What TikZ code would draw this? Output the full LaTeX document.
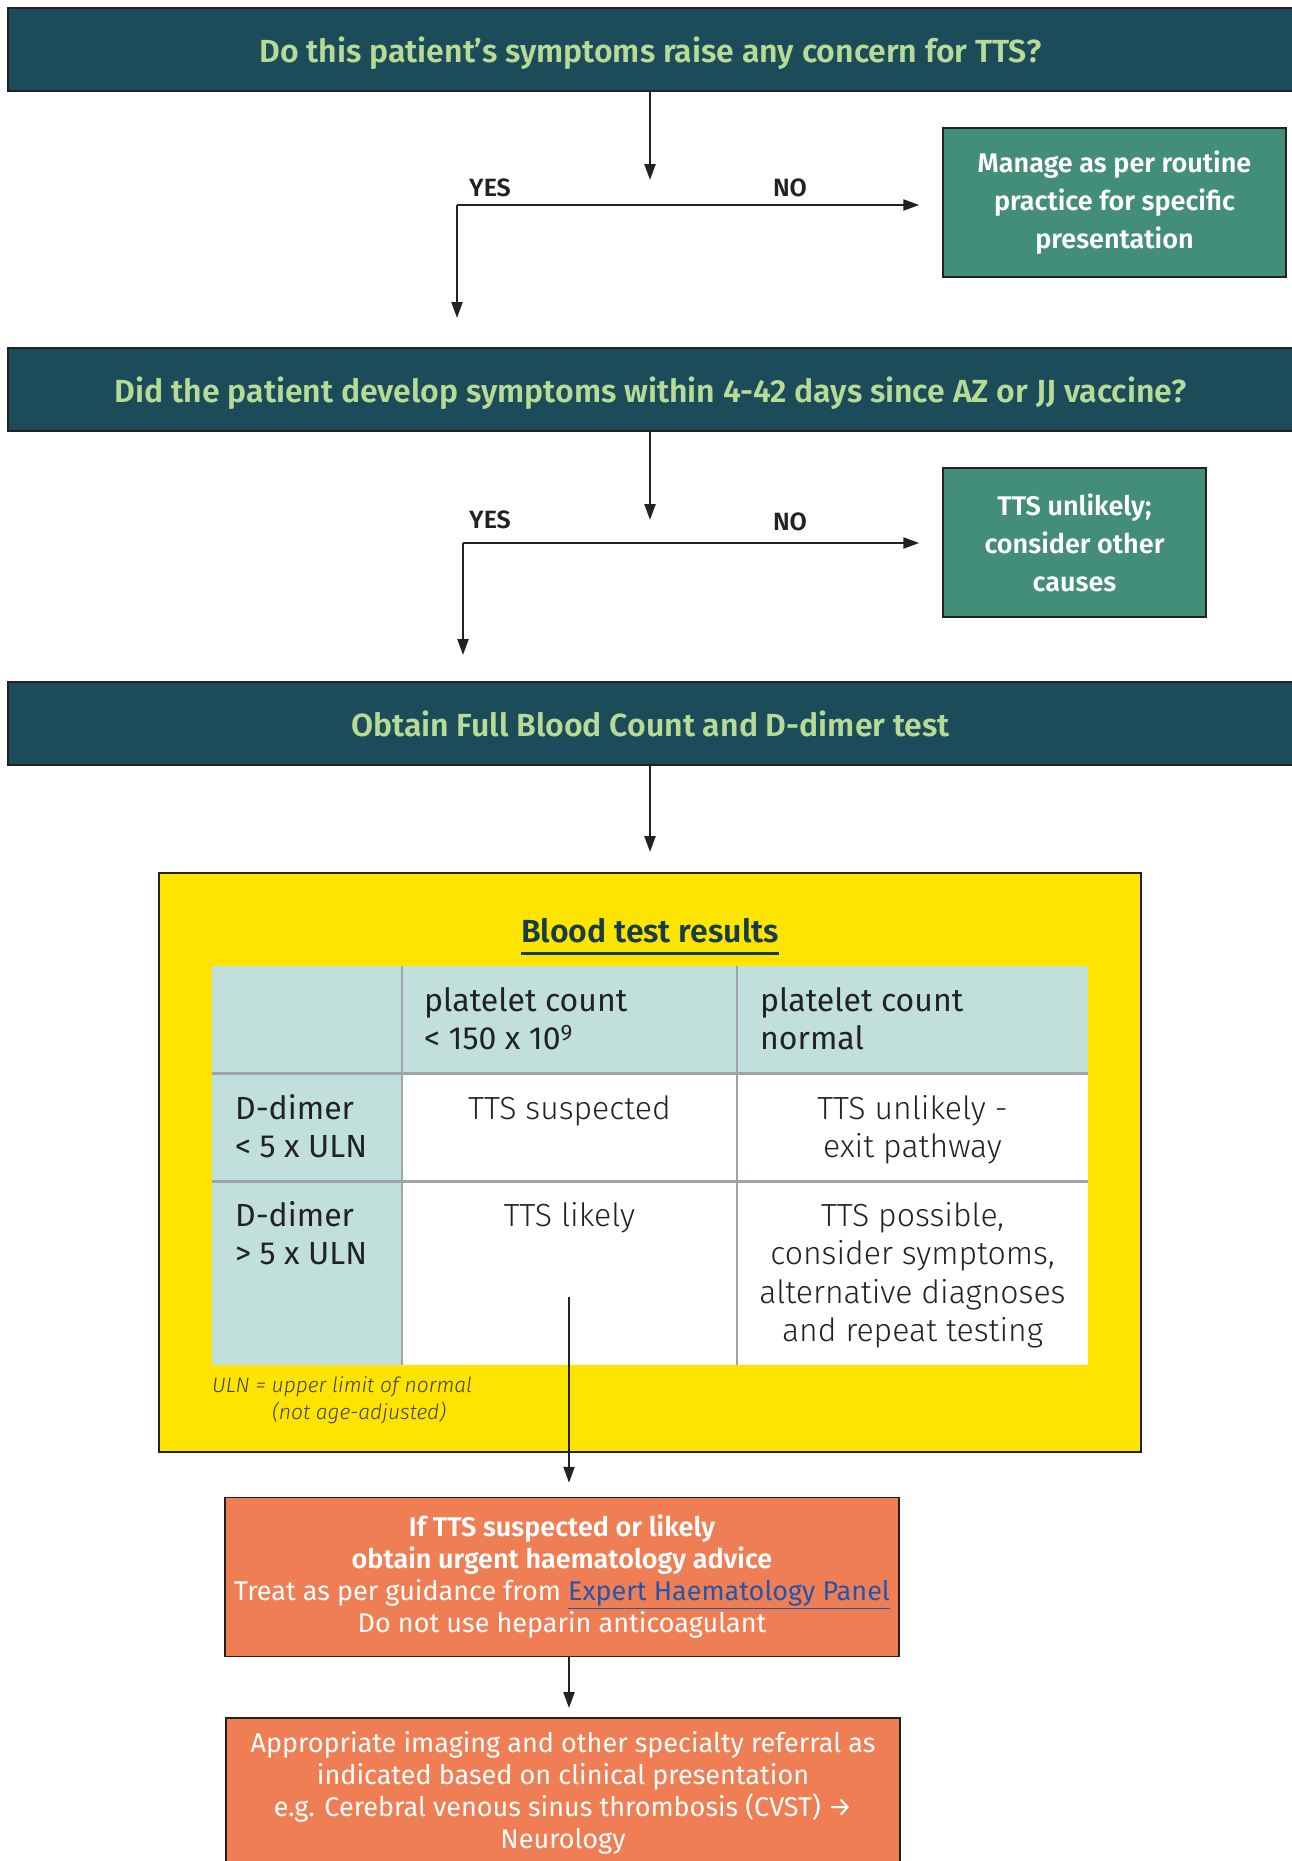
\documentclass[tikz,border=0pt]{standalone}
\usepackage{fontspec}
\setmainfont{Fira Sans}
\newfontfamily\semib{Fira Sans SemiBold}
\newfontfamily\lightf{Fira Sans Light}
\usetikzlibrary{arrows.meta, positioning, calc}
\definecolor{deepteal}{RGB}{28, 76, 89}
\definecolor{leafgreen}{RGB}{183, 218, 150}
\definecolor{mossgreen}{RGB}{67, 142, 120}
\definecolor{sunyellow}{RGB}{255, 228, 0}
\definecolor{headfill}{RGB}{193, 224, 220}
\definecolor{coral}{RGB}{240, 126, 85}
\definecolor{linkblue}{RGB}{35, 86, 170}
\definecolor{gridgray}{RGB}{160, 163, 170}
\definecolor{inkdark}{RGB}{34, 34, 34}

\begin{document}
\begin{tikzpicture}[x=1pt, y=-1pt,
  banner/.style={draw=inkdark, line width=2pt, fill=deepteal, text=leafgreen, minimum width=1285pt, minimum height=83pt, inner sep=0pt, text depth=0pt, font=\semib\fontsize{32}{38}\selectfont},
  outbox/.style={draw=inkdark, line width=1.5pt, fill=mossgreen, text=white, align=center, inner sep=0pt, minimum height=149pt, font=\semib\fontsize{27}{38}\selectfont},
  actbox/.style={draw=inkdark, line width=1.5pt, fill=coral, text=white, align=center, inner sep=0pt, minimum width=674pt, font=\fontsize{27}{32}\selectfont},
  flow/.style={draw=inkdark, line width=2.3pt, -{Triangle[length=16pt, width=11pt]}},
  branch/.style={font=\semib\fontsize{25}{28}\selectfont, text=inkdark},
  cell/.style={font=\lightf\fontsize{32}{38.5}\selectfont, text=inkdark, align=center, inner sep=0pt, anchor=base},
  headcell/.style={font=\fontsize{32}{38.5}\selectfont, text=inkdark, align=left, inner sep=0pt, anchor=base west},
]
  \useasboundingbox (0,0) rectangle (1291,1861);

  % First question
  \node[banner] (q1) at (650.5,49.5) {Do this patient’s symptoms raise any concern for TTS?};
  \node[outbox, minimum width=343pt] (routine) at (1114.5,202.5) {Manage as per routine\\practice for specific\\presentation};
  \coordinate (stop1) at (650,180);
  \coordinate (fork1) at (457,205);
  \coordinate (yes1) at (457,318);
  \draw[flow] (q1.south -| stop1) -- (stop1);
  \draw[flow, shorten >=23pt] (fork1) -- (fork1 -| routine.west);
  \draw[flow] (fork1) -- (yes1);
  \node[branch] (yesa) at (490,188) {YES};
  \node[branch] (noa) at (790,188) {NO};

  % Second question
  \node[banner] (q2) at (650.5,389.5) {Did the patient develop symptoms within 4-42 days since AZ or JJ vaccine?};
  \node[outbox, minimum width=263pt] (unlikely) at (1074.5,542.5) {TTS unlikely;\\consider other\\causes};
  \coordinate (stop2) at (650,520);
  \coordinate (fork2) at (463,543);
  \coordinate (yes2) at (463,655);
  \draw[flow] (q2.south -| stop2) -- (stop2);
  \draw[flow, shorten >=23pt] (fork2) -- (fork2 -| unlikely.west);
  \draw[flow] (fork2) -- (yes2);
  \node[branch] (yesb) at (490,520) {YES};
  \node[branch] (nob) at (790,522) {NO};

  % Tests
  \node[banner] (q3) at (650.5,723.5) {Obtain Full Blood Count and D-dimer test};
  \node[draw=inkdark, line width=1.5pt, fill=sunyellow, minimum width=982pt, minimum height=579pt] (results) at (650,1162.5) {};
  \coordinate (stop3) at (650,852);
  \draw[flow] (q3.south -| stop3) -- (stop3);

  % Results table
  \node[font=\semib\fontsize{32}{38}\selectfont, text=deepteal!80!black, inner sep=0pt] (title) at (650,931) {Blood test results};
  \draw[deepteal!80!black, line width=3pt] ([yshift=-10pt]title.south west) -- ([yshift=-10pt]title.south east);
  \fill[headfill] (212,966) rectangle (1088,1073);
  \fill[headfill] (212,1073) rectangle (402,1365);
  \fill[white] (402,1073) rectangle (1088,1365);
  \draw[gridgray, line width=2.5pt] (402,966) -- (402,1365) (737,966) -- (737,1365);
  \draw[gridgray, line width=3pt] (212,1073) -- (1088,1073) (212,1181) -- (1088,1181);
  \node[headcell] (plow) at (424,1049.5) {platelet count\\< 150 x 10\textsuperscript{9}};
  \node[headcell] (pnorm) at (760,1049.5) {platelet count\\normal};
  \node[headcell] (dlow) at (235,1157.5) {D-dimer\\< 5 x ULN};
  \node[headcell] (dhigh) at (235,1264.5) {D-dimer\\> 5 x ULN};
  \node[cell] (suspected) at (569.5,1119) {TTS suspected};
  \node[cell] (exit) at (912.5,1157.5) {TTS unlikely -\\exit pathway};
  \node[cell] (likely) at (569.5,1226) {TTS likely};
  \node[cell] (possible) at (912.5,1341.5) {TTS possible,\\consider symptoms,\\alternative diagnoses\\and repeat testing};
  \node[font=\lightf\itshape\fontsize{21}{27}\selectfont, text=black!75, align=left, inner sep=0pt, anchor=base west] (uln) at (212,1419) {ULN = upper limit of normal\\\hspace*{60pt}(not age-adjusted)};

  % Actions
  \node[actbox, minimum height=159pt] (act) at (562,1577) {{\semib If TTS suspected or likely}\\{\semib obtain urgent haematology advice}\\Treat as per guidance from \textcolor{linkblue}{\underline{Expert Haematology Panel}}\\Do not use heparin anticoagulant};
  \node[actbox, minimum height=150pt, anchor=north] (refer) at (563,1717) {Appropriate imaging and other specialty referral as\\indicated based on clinical presentation\\e.g. Cerebral venous sinus thrombosis (CVST) →\\Neurology};
  \coordinate (arrowtop) at (569,1297);
  \draw[flow, shorten >=14pt] (arrowtop) -- (arrowtop |- act.north);
  \draw[flow, shorten >=9pt] (act.south -| arrowtop) -- (refer.north -| arrowtop);
\end{tikzpicture}
\end{document}
